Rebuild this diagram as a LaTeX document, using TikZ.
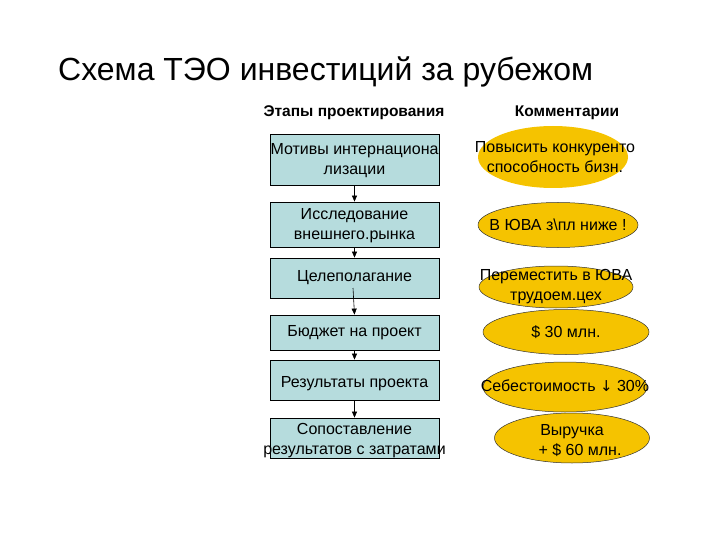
\documentclass[tikz,border=0pt]{standalone}
\usepackage{fontspec}
\setmainfont{Liberation Sans}
\usetikzlibrary{shapes.geometric,arrows.meta}
\definecolor{boxfill}{HTML}{B6DCDD}
\definecolor{ellfill}{HTML}{F5C300}
\tikzset{
  txt/.style={font=\fontsize{16}{20}\selectfont, align=center, inner sep=0pt},
  stepbox/.style={draw=black, line width=0.8pt, fill=boxfill, minimum width=169pt, inner sep=0pt},
  comm/.style={ellipse, fill=ellfill, draw=black!80, line width=0.5pt, inner sep=0pt},
  conn/.style={-{Triangle[length=6pt,width=5pt]}, line width=0.6pt},
  hdr/.style={font=\bfseries\fontsize{15.5}{18}\selectfont}
}
\begin{document}
\begin{tikzpicture}[x=1pt,y=-1pt]
\useasboundingbox (0,0) rectangle (720,540);
\node[anchor=base west, font=\fontsize{32}{38}\selectfont, inner sep=0pt] (title) at (58,81) {Схема ТЭО инвестиций за рубежом};
\node[hdr] (h1) at (354,113) {Этапы проектирования};
\node[hdr] (h2) at (567,113) {Комментарии};

\node[stepbox, minimum height=51pt] (b1) at (354.5,159.5) {};
\node[txt] (t1) at (354.5,161) {Мотивы интернациона\\лизации};
\node[stepbox, minimum height=45pt] (b2) at (354.5,224.5) {};
\node[txt] (t2) at (354.5,226) {Исследование\\внешнего.рынка};
\node[stepbox, minimum height=40pt] (b3) at (354.5,278) {};
\node[txt] (t3) at (354.5,278) {Целеполагание};
\node[stepbox, minimum height=35pt] (b4) at (354.5,332.5) {};
\node[txt] (t4) at (354.5,332.5) {Бюджет на проект};
\node[stepbox, minimum height=40pt] (b5) at (354.5,380) {};
\node[txt] (t5) at (354.5,384) {Результаты проекта};
\node[stepbox, minimum height=40pt] (b6) at (354.5,438) {};
\node[txt] (t6) at (354.5,441) {Сопоставление\\результатов с затратами};

\coordinate (c3) at (353,288);
\draw[conn] (b1) -- (b2);
\draw[conn] (b2) -- (b3);
\draw[conn] (c3) -- (b4.north);
\draw[conn] (b4) -- (b5);
\draw[conn] (b5) -- (b6);

\node[comm, draw=none, minimum width=150pt, minimum height=62pt] (e1) at (553,157) {};
\node[txt] (te1) at (555,157) {Повысить конкуренто\\способность бизн.};
\node[comm, minimum width=160pt, minimum height=45pt] (e2) at (558,225) {};
\node[txt] (te2) at (558,225) {В ЮВА з\textbackslash пл ниже !};
\node[comm, minimum width=154pt, minimum height=42pt] (e3) at (556,287) {};
\node[txt] (te3) at (556,287) {Переместить в ЮВА\\трудоем.цех};
\node[comm, minimum width=166pt, minimum height=45pt] (e4) at (566,332) {};
\node[txt] (te4) at (566,332) {\$ 30 млн.};
\node[comm, minimum width=164pt, minimum height=50pt] (e5) at (565,387) {};
\node[txt] (te5) at (565,386) {Себестоимость \fontspec{DejaVu Sans}\fontsize{15}{20}\selectfont↓\fontspec{Liberation Sans}\fontsize{16}{20}\selectfont{} 30\%};
\node[comm, minimum width=155pt, minimum height=50pt] (e6) at (572,438) {};
\node[txt] (te6) at (572,441) {Выручка\\ \quad+ \$ 60 млн.};
\end{tikzpicture}
\end{document}
